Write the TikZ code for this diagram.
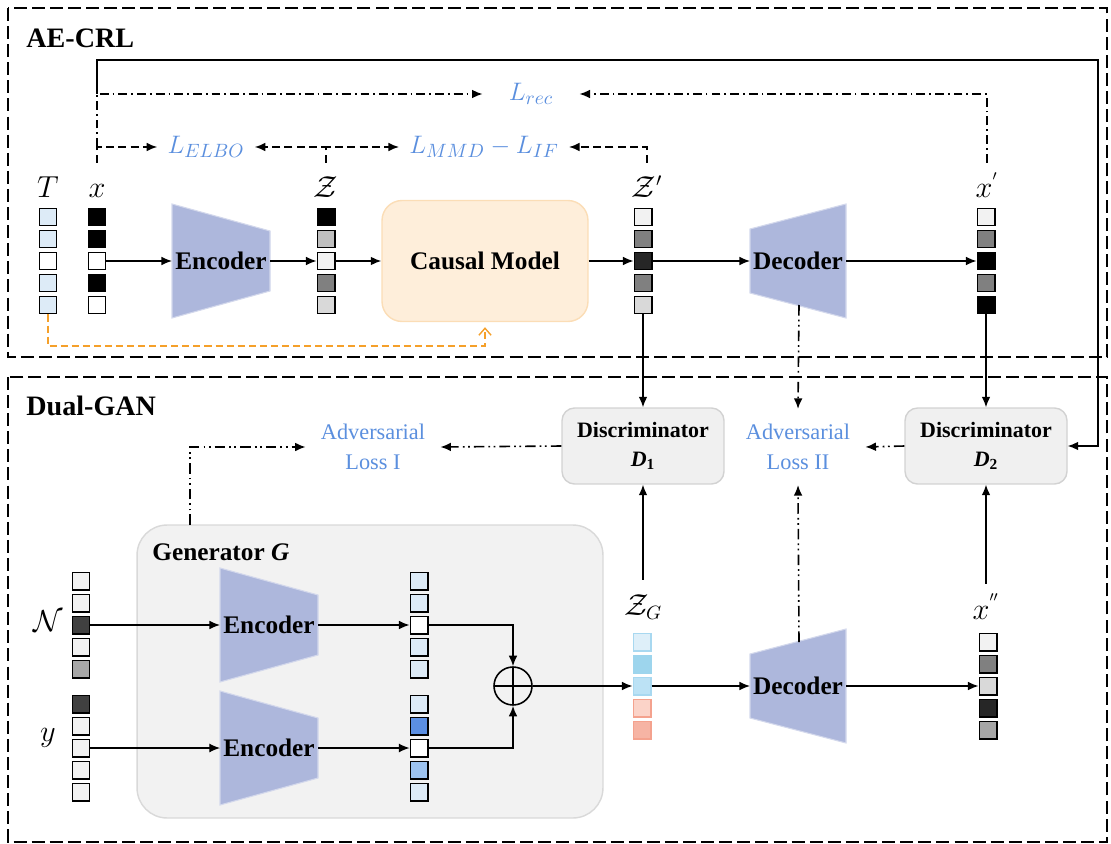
\documentclass[tikz,border=0pt]{standalone}
\usepackage{fontspec}
\setmainfont{Liberation Serif}
\usepackage{amsmath,amssymb}
\usepackage{tikz}
\usetikzlibrary{arrows.meta}
\definecolor{lblue}{HTML}{DDEBF7}
\definecolor{g1}{HTML}{F2F2F2}
\definecolor{g2}{HTML}{BFBFBF}
\definecolor{g3}{HTML}{808080}
\definecolor{g4}{HTML}{D9D9D9}
\definecolor{g5}{HTML}{262626}
\definecolor{g6}{HTML}{A6A6A6}
\definecolor{g7}{HTML}{404040}
\definecolor{dblue}{HTML}{5B8FE3}
\definecolor{mblue}{HTML}{9DC3F0}
\definecolor{zg1}{HTML}{DEEFF9}
\definecolor{zg2}{HTML}{9DD5ED}
\definecolor{zg3}{HTML}{BCE2F5}
\definecolor{zg4}{HTML}{FBD3C8}
\definecolor{zg5}{HTML}{F6B4A4}
\definecolor{zgb}{HTML}{A8D8F0}
\definecolor{zgr}{HTML}{F4A28E}
\definecolor{encblue}{HTML}{ADB7DC}
\definecolor{encedge}{HTML}{D3D8EC}
\definecolor{cmfill}{HTML}{FEEEDA}
\definecolor{cmedge}{HTML}{FBDDB6}
\definecolor{boxfill}{HTML}{F0F0F0}
\definecolor{boxedge}{HTML}{D2D2D2}
\definecolor{losscol}{HTML}{5B8FDE}
\definecolor{orng}{HTML}{F5A02A}
\newcommand{\veccol}[8]{%
  \node[cell,#4] (#1-1) at (#2,#3-44) {};
  \node[cell,#5] (#1-2) at (#2,#3-22) {};
  \node[cell,#6] (#1-3) at (#2,#3) {};
  \node[cell,#7] (#1-4) at (#2,#3+22) {};
  \node[cell,#8] (#1-5) at (#2,#3+44) {};
}
\newcommand{\encblock}[3]{%
  \draw[trap] (#2,#3-57) -- (#2+98,#3-30) -- (#2+98,#3+30) -- (#2,#3+57) -- cycle;
  \node[blockfont] (#1) at (#2+49,#3) {Encoder};
  \coordinate (#1-in) at (#2,#3);
  \coordinate (#1-out) at (#2+98,#3);
}
\newcommand{\decblock}[3]{%
  \draw[trap] (#2,#3-32) -- (#2+96,#3-57) -- (#2+96,#3+57) -- (#2,#3+32) -- cycle;
  \node[blockfont] (#1) at (#2+48,#3) {Decoder};
  \coordinate (#1-in) at (#2,#3);
  \coordinate (#1-out) at (#2+96,#3);
  \coordinate (#1-top) at (#2+49,#3-44);
  \coordinate (#1-bot) at (#2+49,#3+44);
}
\tikzstyle{cell} = [draw, line width=0.85pt, minimum size=0.35cm, inner sep=0pt]
\tikzstyle{flow} = [-{Latex[length=6pt,width=5pt]}, line width=0.9pt]
\tikzstyle{lossdash} = [flow, dash pattern=on 4.5pt off 2.5pt]
\tikzstyle{lossdd} = [flow, dash pattern=on 5pt off 2.3pt on 1pt off 2.3pt]
\tikzstyle{advdd} = [flow, dash pattern=on 6pt off 2.3pt on 1pt off 2pt on 1pt off 2.3pt]
\tikzstyle{region} = [line width=1.1pt, dash pattern=on 7.4pt off 2.9pt]
\tikzstyle{orngdash} = [draw=orng, line width=0.8pt, dash pattern=on 4pt off 2.3pt, -{Straight Barb[length=4pt,width=7pt]}]
\tikzstyle{trap} = [fill=encblue, draw=encedge, line width=0.6pt]
\tikzstyle{blockfont} = [font=\fontsize{14.4}{17}\selectfont\bfseries]
\tikzstyle{title} = [font=\fontsize{16}{19}\selectfont\bfseries, inner sep=0pt]
\tikzstyle{causal} = [fill=cmfill, draw=cmedge, line width=0.8pt, rounded corners=0.4cm, minimum width=4.12cm, minimum height=2.42cm, blockfont]
\tikzstyle{discbox} = [fill=boxfill, draw=boxedge, line width=0.8pt, rounded corners=0.25cm, minimum width=3.24cm, minimum height=1.52cm, align=center, font=\fontsize{12.5}{16}\selectfont\bfseries]
\tikzstyle{genbox} = [fill=g1, draw=g4, line width=0.8pt, rounded corners=0.6cm, minimum width=9.32cm, minimum height=5.86cm]
\tikzstyle{advtext} = [text=losscol, align=center, inner sep=0.3cm, font=\fontsize{12.7}{17}\selectfont]
\tikzstyle{losstext} = [text=losscol, inner ysep=0.1cm, inner xsep=0.2cm, font=\fontsize{15}{17}\selectfont]
\tikzstyle{veclabel} = [anchor=base, font=\fontsize{16}{18}\selectfont, text height=10pt, text depth=2pt, inner xsep=2pt, inner ysep=10pt]
\tikzstyle{sidelabel} = [font=\fontsize{17}{19}\selectfont]
\tikzstyle{oplus} = [circle, draw, minimum size=0.76cm, inner sep=0pt, line width=0.9pt,
  path picture={\draw[line width=0.9pt] (path picture bounding box.north) -- (path picture bounding box.south) (path picture bounding box.west) -- (path picture bounding box.east);}]

\begin{document}
\begin{tikzpicture}[x=0.02cm, y=-0.02cm]
\useasboundingbox (0,0) rectangle (1111,844);
\draw[region] (8,8) rectangle (1107,357);
\draw[region] (8,377) rectangle (1107,842);
\node[title, anchor=west] (aecrl) at (26,38) {AE-CRL};
\node[title, anchor=west] (dualgan) at (26,406) {Dual-GAN};

% AE-CRL
\veccol{T}{48}{261}{fill=lblue}{fill=lblue}{fill=white}{fill=lblue}{fill=lblue}
\veccol{x}{97}{261}{fill=black}{fill=black}{fill=white}{fill=black}{fill=white}
\encblock{enc1}{172}{261}
\veccol{z}{326}{261}{fill=black}{fill=g2}{fill=g1}{fill=g3}{fill=g4}
\node[causal] (cm) at (485,261) {Causal Model};
\veccol{zp}{643}{261}{fill=g1}{fill=g3}{fill=g5}{fill=g3}{fill=g4}
\decblock{dec1}{750}{261}
\veccol{xp}{986}{261}{fill=g1}{fill=g3}{fill=black}{fill=g3}{fill=black}
\node[veclabel] (lT) at (48,198) {$T$};
\node[veclabel] (lx) at (97,198) {$x$};
\node[veclabel] (lz) at (326,198) {$\mathcal{Z}$};
\node[veclabel] (lzp) at (647,198) {$\mathcal{Z}'$};
\node[veclabel] (lxp) at (987,198) {$x^{'}$};
\node[losstext] (elbo) at (206,147) {$L_{ELBO}$};
\node[losstext] (mmd) at (484,147) {$L_{MMD}-L_{IF}$};
\node[losstext, inner xsep=0.52cm] (rec) at (531,94) {$L_{rec}$};
\coordinate (xtap) at (97,147);
\coordinate (ctop) at (1098,60);

\draw[flow] (x-3) -- (enc1-in);
\draw[flow] (enc1-out) -- (z-3);
\draw[flow] (z-3) -- (cm);
\draw[flow] (cm) -- (zp-3);
\draw[flow] (zp-3) -- (dec1-in);
\draw[flow] (dec1-out) -- (xp-3);
\draw[lossdash] (lx.north) |- (elbo.west);
\draw[lossdash] (lz.north) |- (elbo.east);
\draw[lossdash] (lz.north) |- (mmd.west);
\draw[lossdash] (lzp.north) |- (mmd.east);
\draw[lossdd] (xtap) |- (rec.west);
\draw[lossdd] (lxp.north) |- (rec.east);
\draw[orngdash] (T-5.south) |- ([yshift=-0.48cm]cm.south) -- ([yshift=-0.1cm]cm.south);

% Dual-GAN
\node[discbox] (d1) at (643,446) {Discriminator\\\textit{D}$_{\mathbf{1}}$};
\node[discbox] (d2) at (986,446) {Discriminator\\\textit{D}$_{\mathbf{2}}$};
\node[advtext] (adv1) at (373,447) {Adversarial\\Loss I};
\node[advtext] (adv2) at (798,447) {Adversarial\\Loss II};
\node[genbox] (gen) at (370,671.5) {};
\node[blockfont, anchor=west, inner sep=0pt] (gtitle) at (152,552) {Generator \textit{G}};
\coordinate (gtap) at (190,525);
\veccol{n}{81}{625}{fill=g1}{fill=g1}{fill=g7}{fill=g1}{fill=g6}
\veccol{y}{81}{748}{fill=g7}{fill=g1}{fill=g1}{fill=g1}{fill=g1}
\node[sidelabel] (ln) at (48,621) {$\mathcal{N}$};
\node[sidelabel] (ly) at (48,738) {$y$};
\encblock{genc1}{220}{625}
\encblock{genc2}{220}{748}
\veccol{g1}{419}{625}{fill=lblue}{fill=lblue}{fill=white}{fill=lblue}{fill=lblue}
\veccol{g2}{419}{748}{fill=lblue}{fill=dblue}{fill=white}{fill=mblue}{fill=lblue}
\node[oplus] (plus) at (513,686) {};
\veccol{zg}{642}{686}{fill=zg1, draw=zgb}{fill=zg2, draw=zg2}{fill=zg3, draw=zgb}{fill=zg4, draw=zgr}{fill=zg5, draw=zgr}
\decblock{dec2}{750}{686}
\veccol{xpp}{988}{686}{fill=g1}{fill=g3}{fill=g4}{fill=g5}{fill=g6}
\node[veclabel] (lzg) at (643,615) {$\mathcal{Z}_G$};
\node[veclabel] (lxpp) at (986,619) {$x^{''}$};

\draw[flow] (xtap |- rec.west) |- (ctop) |- (d2.east);
\draw[flow] (n-3) -- (genc1-in);
\draw[flow, line width=0.6pt] (y-3) -- (genc2-in);
\draw[flow] (genc1-out) -- (g1-3);
\draw[flow, line width=0.6pt] (genc2-out) -- (g2-3);
\draw[flow] (g1-3.east) -| (plus.north);
\draw[flow] (g2-3.east) -| (plus.south);
\draw[flow] (plus) -- (zg-3);
\draw[flow] (zg-3) -- (dec2-in);
\draw[flow] (dec2-out) -- (xpp-3);
\draw[flow] (zp-5) -- (d1);
\draw[flow] (xp-5) -- (d2);
\draw[flow] (lzg.north) -- (d1.south);
\draw[flow] (lxpp.north) -- (d2.south);
\draw[advdd] (gtap) |- (adv1.west);
\draw[advdd] (d1.west) -- (adv1.east);
\draw[advdd] (d2.west) -- (adv2.east);
\draw[advdd] (dec1-bot) -- (adv2.north);
\draw[advdd] (dec2-top) -- (adv2.south);
\end{tikzpicture}
\end{document}
